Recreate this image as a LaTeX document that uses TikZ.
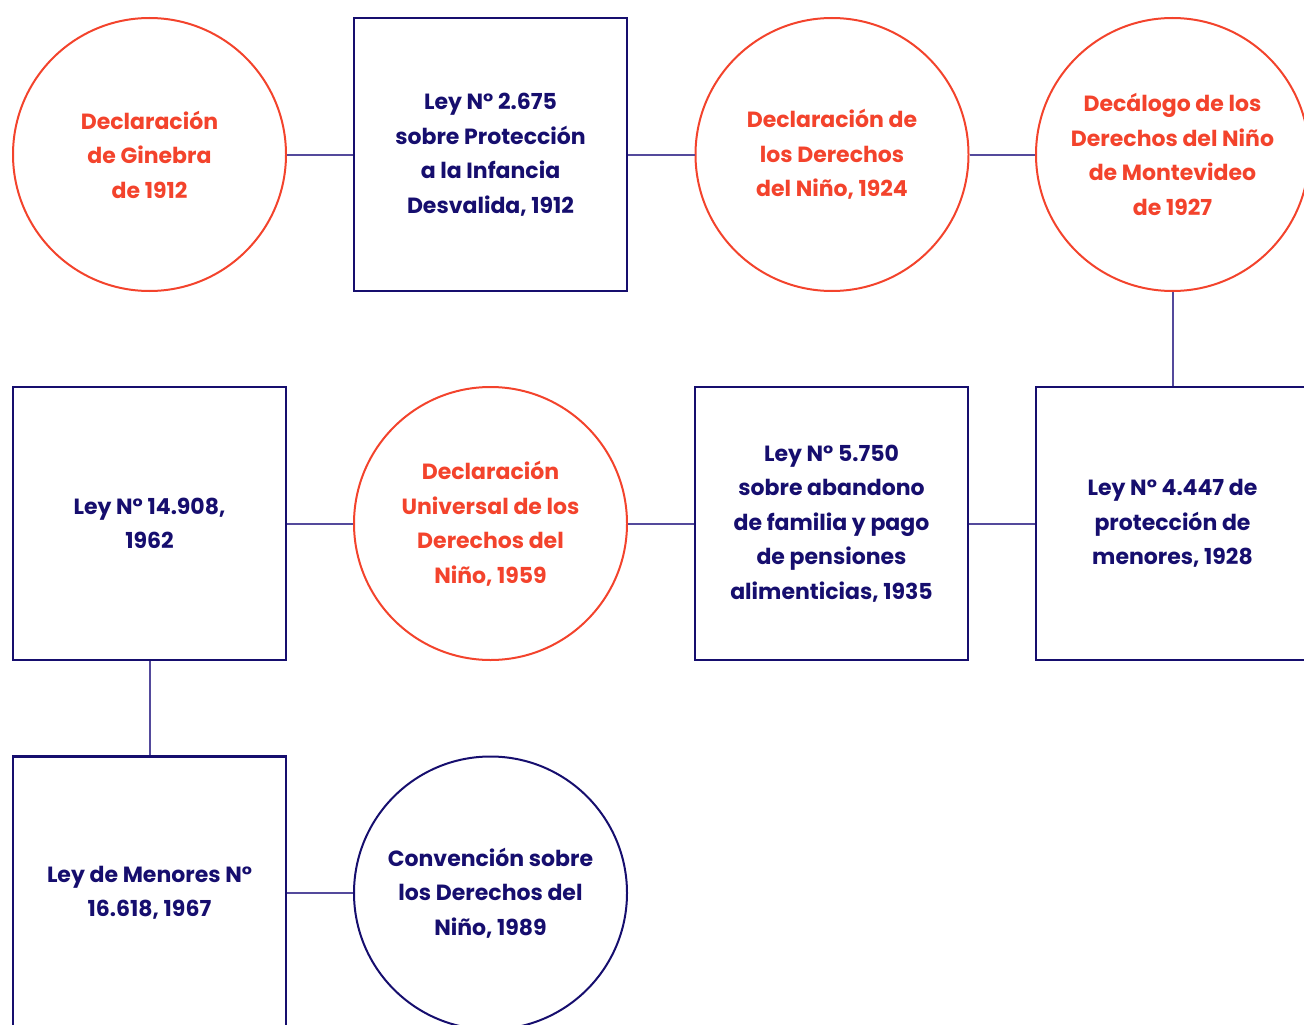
\documentclass[tikz,border=0pt]{standalone}
\usepackage{fontspec}
\setmainfont{Poppins}
\definecolor{rojo}{RGB}{243,67,44}
\definecolor{azul}{RGB}{22,14,110}
\definecolor{linea}{RGB}{84,74,156}
\tikzset{
  hito/.style={circle,draw=rojo,line width=2pt,minimum size=273pt,inner sep=0pt,
    text=rojo,align=center,font=\bfseries\fontsize{22}{34.5}\selectfont},
  tratado/.style={hito,draw=azul,text=azul},
  ley/.style={rectangle,draw=azul,line width=2.5pt,minimum size=273pt,inner sep=0pt,
    text=azul,align=center,font=\bfseries\fontsize{22}{34.5}\selectfont},
  enlace/.style={draw=linea,line width=2pt}
}
\begin{document}
\begin{tikzpicture}[x=1pt,y=-1pt]
  \clip (0,0) rectangle (1304,1025);
  % primera fila
  \node[hito] (g1912) at (149.5,154.5) {Declaración\\de Ginebra\\de 1912};
  \node[ley] (ley2675) at (490.5,154.5) {Ley N° 2.675\\sobre Protección\\a la Infancia\\Desvalida, 1912};
  \node[hito] (d1924) at (832,154.5) {Declaración de\\los Derechos\\del Niño, 1924};
  \node[hito] (m1927) at (1172.5,154.5) {Decálogo de los\\Derechos del Niño\\de Montevideo\\de 1927};
  % segunda fila
  \node[ley] (ley14908) at (149.5,523.5) {Ley N° 14.908,\\1962};
  \node[hito] (u1959) at (490.5,523.5) {Declaración\\Universal de los\\Derechos del\\Niño, 1959};
  \node[ley] (ley5750) at (831.5,523.5) {Ley N° 5.750\\sobre abandono\\de familia y pago\\de pensiones\\alimenticias, 1935};
  \node[ley] (ley4447) at (1172.5,523.5) {Ley N° 4.447 de\\protección de\\menores, 1928};
  % tercera fila
  \node[ley] (ley16618) at (149.5,893) {Ley de Menores N°\\16.618, 1967};
  \node[tratado] (c1989) at (490.5,893) {Convención sobre\\los Derechos del\\Niño, 1989};
  % enlaces
  \draw[enlace] (g1912) -- (ley2675);
  \draw[enlace] (ley2675) -- (d1924);
  \draw[enlace] (d1924) -- (m1927);
  \draw[enlace] (m1927) -- (ley4447);
  \draw[enlace] (ley4447) -- (ley5750);
  \draw[enlace] (ley5750) -- (u1959);
  \draw[enlace] (u1959) -- (ley14908);
  \draw[enlace] (ley14908) -- (ley16618);
  \draw[enlace] (ley16618) -- (c1989);
\end{tikzpicture}
\end{document}
